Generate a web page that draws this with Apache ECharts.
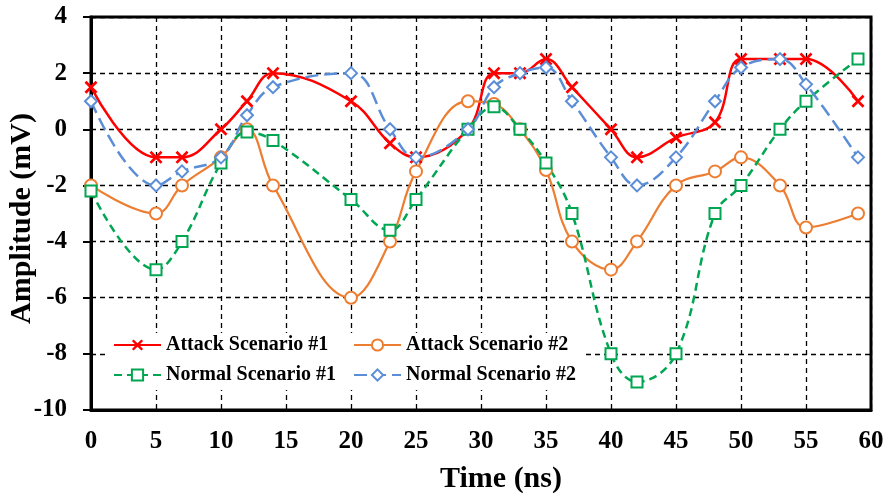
<!doctype html>
<html>
	<head>
		<meta charset="utf-8">
		<title>Amplitude</title>
		<style>
			html, body { margin: 0; padding: 0; background: #fff; }
			#chart { width: 886px; height: 496px; }
		</style>
	</head>
	<body>
		<div id="chart"></div>
		<script src="https://cdn.jsdelivr.net/npm/echarts@6.0.0/dist/echarts.min.js"></script>
		<script type="text/javascript">
			// 数据 (time in ns, amplitude in mV)
			var attack1X = [0, 5, 7, 10, 12, 14, 20, 23, 25, 29, 31, 33, 35, 37, 40, 42, 45, 48, 50, 53, 55, 59];
			var attack1Y = [1.5, -1, -1, 0, 1, 2, 1, -0.5, -1, 0, 2, 2, 2.5, 1.5, 0, -1, -0.3, 0.25, 2.5, 2.5, 2.5, 1];

			var attack2X = [0, 5, 7, 10, 12, 14, 20, 23, 25, 29, 31, 33, 35, 37, 40, 42, 45, 48, 50, 53, 55, 59];
			var attack2Y = [-2, -3, -2, -1, 0, -2, -6, -4, -1.5, 1, 0.9, 0, -1.45, -4, -5, -4, -2, -1.5, -1, -2, -3.5, -3];

			var normal1X = [0, 5, 7, 10, 12, 14, 20, 23, 25, 29, 31, 33, 35, 37, 40, 42, 45, 48, 50, 53, 55, 59];
			var normal1Y = [-2.2, -5, -4, -1.2, -0.1, -0.4, -2.5, -3.6, -2.5, 0, 0.8, 0, -1.2, -3, -8, -9, -8, -3, -2, 0, 1, 2.5];

			var normal2X = [0, 5, 7, 10, 12, 14, 20, 23, 25, 29, 31, 33, 35, 37, 40, 42, 45, 48, 50, 53, 55, 59];
			var normal2Y = [1, -2, -1.5, -1, 0.5, 1.5, 2, 0, -1, 0, 1.5, 2, 2.2, 1, -1, -2, -1, 1, 2.2, 2.5, 1.6, -1];

			var seriesNames = ['Attack Scenario #1', 'Attack Scenario #2', 'Normal Scenario #1', 'Normal Scenario #2'];

			var font = '"Liberation Serif", "Times New Roman", serif';
			var crossPath = 'path://M1.5,0 L5,3.5 L8.5,0 L10,1.5 L6.5,5 L10,8.5 L8.5,10 L5,6.5 L1.5,10 L0,8.5 L3.5,5 L0,1.5 Z';

			function pairs(xs, ys) {
				var out = [];
				for (var i = 0; i < xs.length; i++) {
					out.push([xs[i], ys[i]]);
				}
				return out;
			}

			var chart = echarts.init(document.getElementById('chart'));
			chart.setOption({
				animation: false,
				backgroundColor: '#fff',
				grid: {
					left: 91,
					right: 15,
					top: 17,
					bottom: 86,
					outerBoundsMode: 'none',
					containLabel: false,
					show: true,
					borderColor: '#000',
					borderWidth: 3
				},
				legend: [{
					data: [seriesNames[0], seriesNames[2]],
					orient: 'vertical',
					left: 105,
					top: 333,
					padding: [0, 10, 3, 8],
					itemGap: 6,
					itemWidth: 47,
					itemHeight: 14,
					backgroundColor: '#fff',
					textStyle: { fontFamily: font, fontWeight: 'bold', fontSize: 20, color: '#000', lineHeight: 24 }
				}, {
					data: [seriesNames[1], seriesNames[3]],
					orient: 'vertical',
					left: 345,
					top: 333,
					padding: [0, 10, 3, 8],
					itemGap: 6,
					itemWidth: 47,
					itemHeight: 14,
					backgroundColor: '#fff',
					textStyle: { fontFamily: font, fontWeight: 'bold', fontSize: 20, color: '#000', lineHeight: 24 }
				}],
				xAxis: {
					type: 'value',
					min: 0,
					max: 60,
					interval: 5,
					name: 'Time (ns)',
					nameLocation: 'middle',
					nameGap: 54,
					nameMoveOverlap: false,
					nameTextStyle: { fontFamily: font, fontWeight: 'bold', fontSize: 30, color: '#000', padding: [0, 0, 0, 40] },
					axisLine: { show: true, onZero: false, lineStyle: { color: '#000', width: 3 } },
					axisTick: { show: false },
					axisLabel: { fontFamily: font, fontWeight: 'bold', fontSize: 25, color: '#000', margin: 19 },
					splitLine: { show: true, lineStyle: { color: '#000', width: 1.3, type: [5, 4] } }
				},
				yAxis: {
					type: 'value',
					min: -10,
					max: 4,
					interval: 2,
					name: 'Amplitude (mV)',
					nameLocation: 'middle',
					nameGap: 54,
					nameMoveOverlap: false,
					nameTextStyle: { fontFamily: font, fontWeight: 'bold', fontSize: 30, color: '#000', padding: [0, 10, 0, 0] },
					axisLine: { show: true, onZero: false, lineStyle: { color: '#000', width: 3 } },
					axisTick: { show: true, length: 8, lineStyle: { color: '#000', width: 2 } },
					axisLabel: { fontFamily: font, fontWeight: 'bold', fontSize: 25, color: '#000', margin: 24 },
					splitLine: { show: true, lineStyle: { color: '#000', width: 1.3, type: [5, 4] } }
				},
				series: [{
					name: seriesNames[0],
					type: 'line',
					smooth: 0.4,
					data: pairs(attack1X, attack1Y),
					symbol: crossPath,
					symbolSize: 13,
					itemStyle: { color: '#ff0000' },
					lineStyle: { color: '#ff0000', width: 2.5 }
				}, {
					name: seriesNames[1],
					type: 'line',
					smooth: 0.4,
					data: pairs(attack2X, attack2Y),
					symbol: 'emptyCircle',
					symbolSize: 12,
					itemStyle: { color: '#ed7d31', borderWidth: 2 },
					lineStyle: { color: '#ed7d31', width: 2.2 }
				}, {
					name: seriesNames[2],
					type: 'line',
					smooth: 0.4,
					data: pairs(normal1X, normal1Y),
					symbol: 'emptyRect',
					symbolSize: 11,
					itemStyle: { color: '#00a651', borderWidth: 2 },
					lineStyle: { color: '#00a651', width: 2.5, type: [8, 5] }
				}, {
					name: seriesNames[3],
					type: 'line',
					smooth: 0.4,
					data: pairs(normal2X, normal2Y),
					symbol: 'emptyDiamond',
					symbolSize: 12,
					itemStyle: { color: '#5b8ed6', borderWidth: 2 },
					lineStyle: { color: '#5b8ed6', width: 2.5, type: [13, 6] }
				}]
			});
		</script>
	</body>
</html>
